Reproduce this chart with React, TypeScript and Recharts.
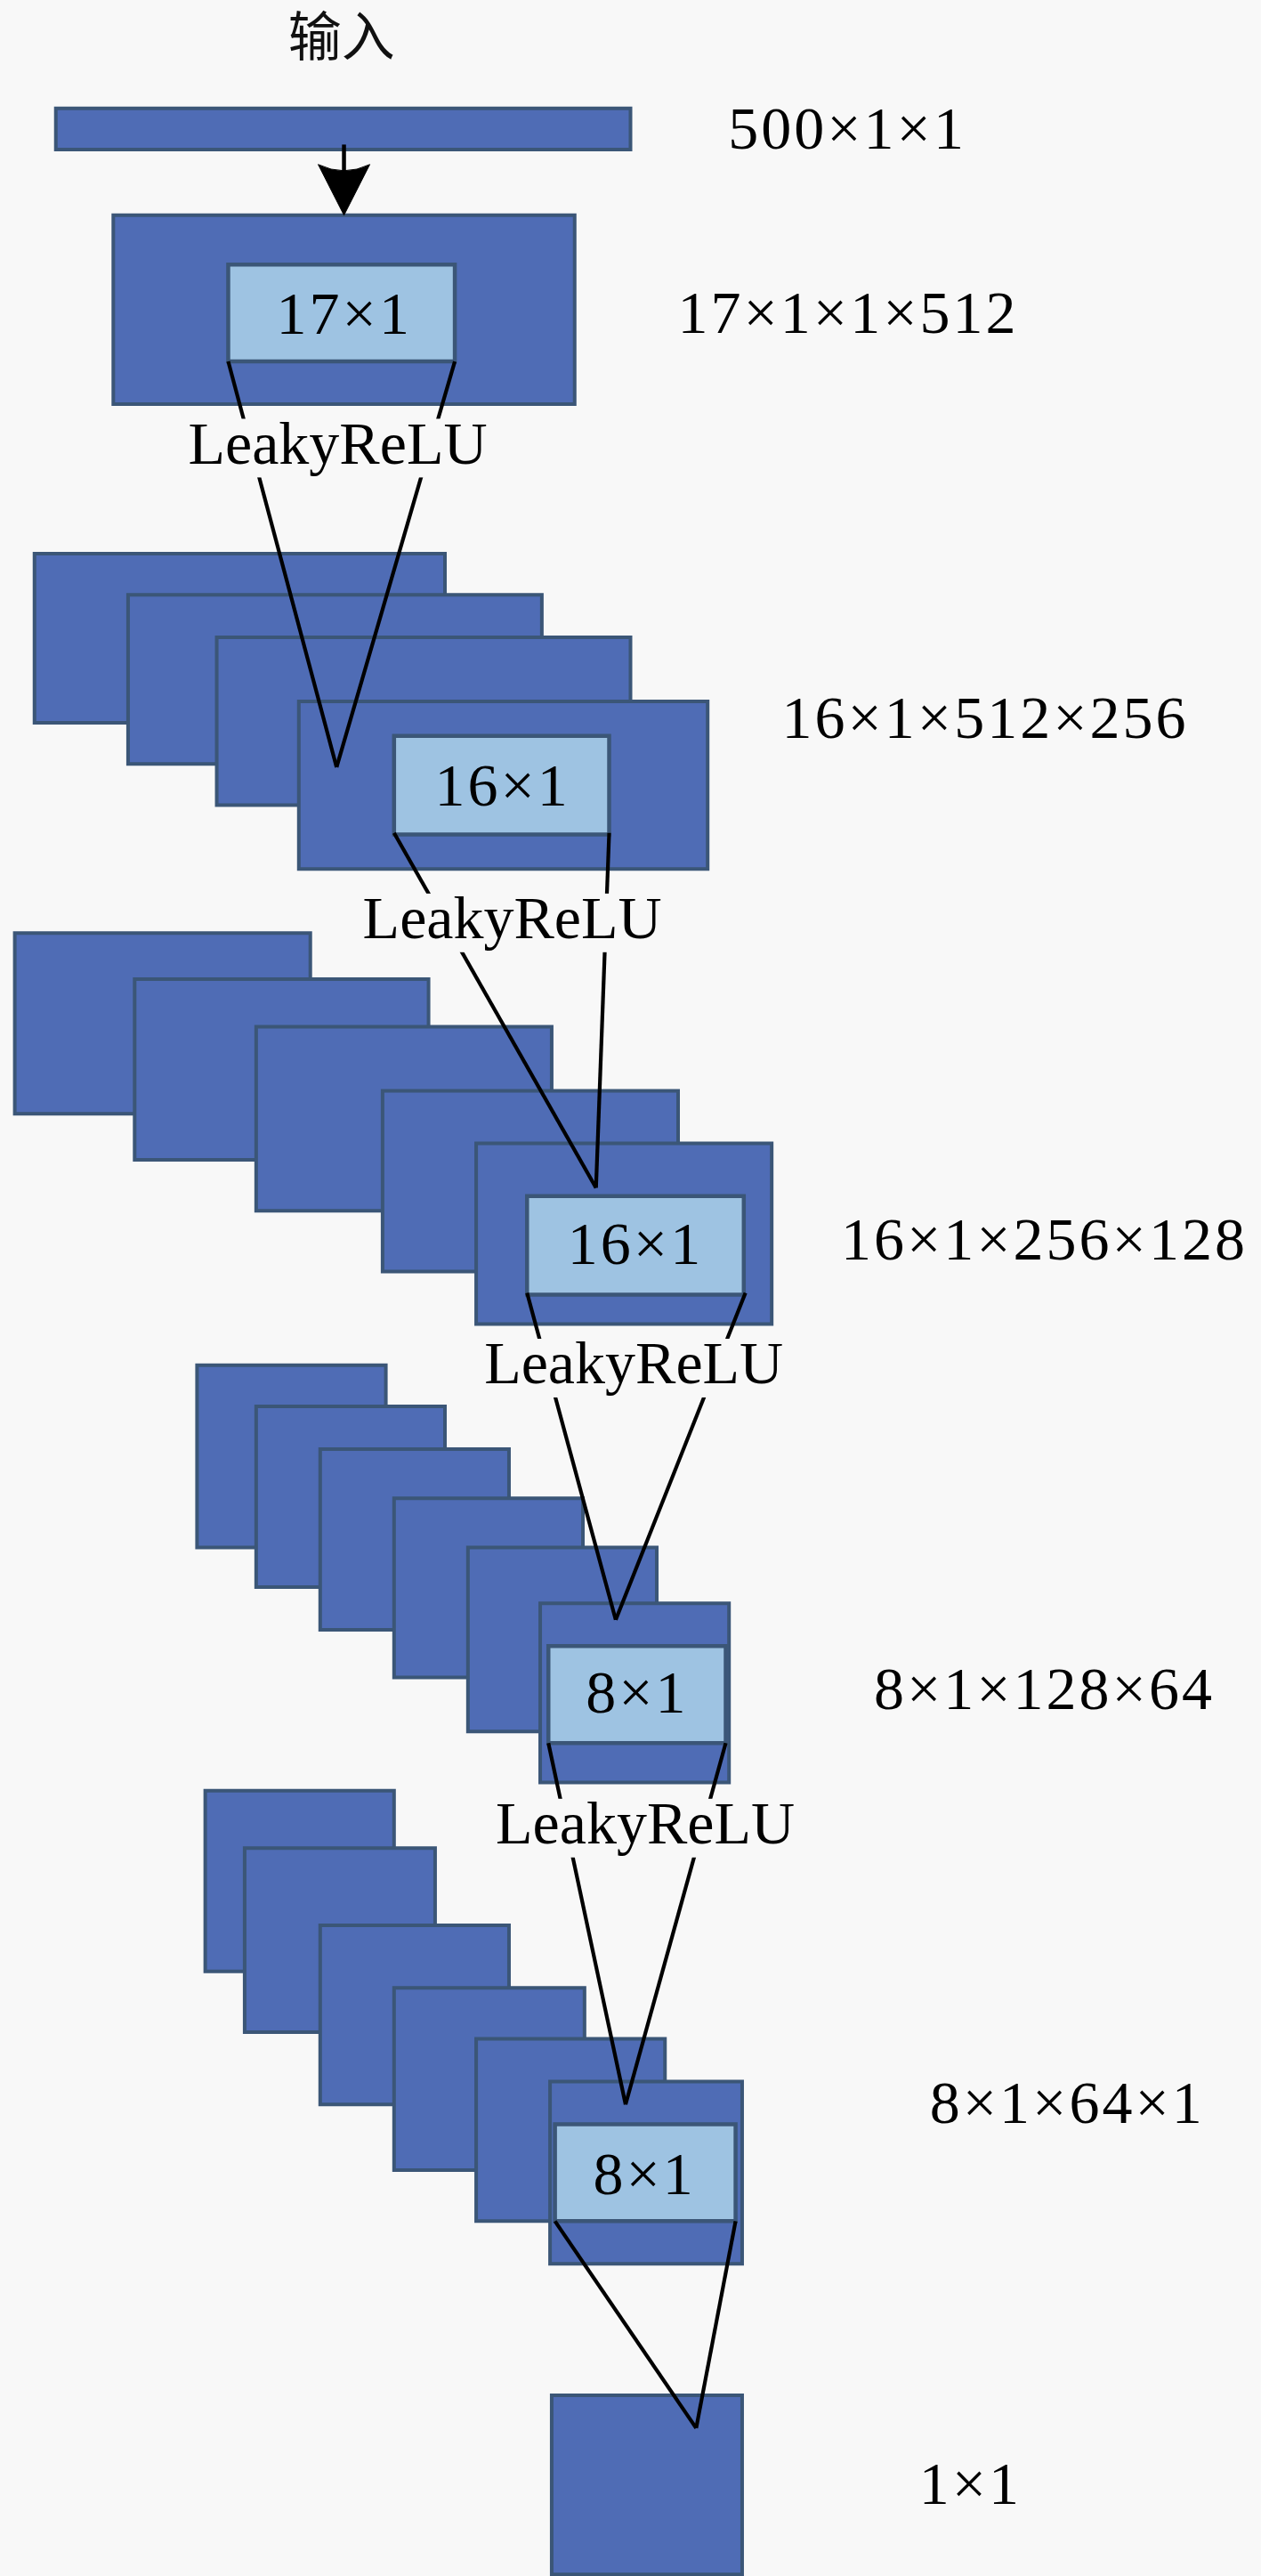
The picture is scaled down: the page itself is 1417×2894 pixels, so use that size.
import React from 'react';
import { ComposedChart, XAxis, YAxis, ReferenceArea, ReferenceLine, Scatter } from 'recharts';

const W = 1417;
const H = 2894;
const X_MAX = 768;
const Y_MAX = 1568;

// Feature-map rectangles: [x1, x2, y1, y2] in diagram units
const inputBar = [[34, 384, 66, 91]];
const block1 = [[69, 350, 131, 246]];
const block2 = [
  [21, 271, 337, 440],
  [78, 330, 362, 465],
  [132, 384, 388, 490],
  [182, 431, 427, 529],
];
const block3 = [
  [9, 189, 568, 678],
  [82, 261, 596, 706],
  [156, 336, 625, 737],
  [233, 413, 664, 774],
  [290, 470, 696, 806],
];
const block4 = [
  [120, 235, 831, 942],
  [156, 271, 856, 966],
  [195, 310, 882, 992],
  [240, 355, 912, 1021],
  [285, 400, 942, 1054],
  [329, 444, 976, 1085],
];
const block5 = [
  [125, 240, 1090, 1200],
  [149, 265, 1125, 1237],
  [195, 310, 1172, 1281],
  [240, 356, 1210, 1321],
  [290, 405, 1241, 1352],
  [335, 452, 1267, 1378],
];
const outputBox = [[336, 452, 1458, 1567]];
const kernelBoxes = [
  [139, 277, 161, 220],
  [240, 371, 448, 508],
  [321, 453, 728, 788],
  [334, 442, 1002, 1061],
  [338, 448, 1293, 1352],
];

// Connector lines [x1, y1, x2, y2]
const connectors = [
  [139, 220, 205, 467],
  [277, 220, 205, 467],
  [240, 507, 363, 723],
  [371, 507, 363, 723],
  [321, 787, 375, 986],
  [454, 787, 375, 986],
  [334, 1061, 381, 1281],
  [442, 1061, 381, 1281],
  [338, 1352, 424, 1478],
  [448, 1352, 424, 1478],
];
const arrowShaft = [[209.5, 88, 209.5, 112]];
const arrowTip = [{ x: 209.5, y: 131 }];

// Text
const titleText = ['输入'];
const titleX = [208];
const titleY = [18];

const dimLabels = ['500×1×1', '17×1×1×512', '16×1×512×256', '16×1×256×128', '8×1×128×64', '8×1×64×1', '1×1'];
const dimLabelX = [516, 516.5, 600, 636, 636, 650, 591];
const dimLabelY = [78, 190.5, 437, 754.5, 1028, 1280, 1512];

const kernelLabels = ['17×1', '16×1', '16×1', '8×1', '8×1'];
const kernelLabelX = [209.6, 306, 387, 388, 392.5];
const kernelLabelY = [190.6, 478, 757, 1030, 1323];

const actLabels = ['LeakyReLU', 'LeakyReLU', 'LeakyReLU', 'LeakyReLU'];
const actLabelX = [205.7, 312, 386, 393];
const actLabelY = [270, 559, 830, 1110];

const BG = '#f8f8f8';
const OUTER_FILL = '#4f6cb5';
const INNER_FILL = '#9ec3e2';
const EDGE = '#3b5677';
const SERIF = '"Liberation Serif", "DejaVu Serif", serif';
const FS = 68;

const outerRects = [...inputBar, ...block1, ...block2, ...block3, ...block4, ...block5, ...outputBox];

const dimData = dimLabels.map((t, i) => ({ x: dimLabelX[i], y: dimLabelY[i], t }));
const kernelData = kernelLabels.map((t, i) => ({ x: kernelLabelX[i], y: kernelLabelY[i], t }));
const actData = actLabels.map((t, i) => ({ x: actLabelX[i], y: actLabelY[i], t }));
const titleData = titleText.map((t, i) => ({ x: titleX[i], y: titleY[i], t }));

const NumText = (props: any) => {
  const { cx, cy, payload } = props;
  return (
    <text
      x={cx}
      y={cy + FS * 0.335}
      textAnchor="middle"
      fontFamily={SERIF}
      style={{ fontFamily: SERIF }}
      fontSize={FS}
      letterSpacing={3}
      fill="#000"
    >
      {payload.t}
    </text>
  );
};

const ActText = (props: any) => {
  const { cx, cy, payload } = props;
  const base = cy + FS * 0.33;
  const w = FS * 5.0;
  return (
    <g>
      <rect x={cx - w / 2} y={base - FS * 0.74} width={w} height={FS * 0.97} fill={BG} />
      <text
        x={cx}
        y={base}
        textAnchor="middle"
        fontFamily={SERIF}
        style={{ fontFamily: SERIF }}
        fontSize={FS}
        fill="#000"
      >
        {payload.t}
      </text>
    </g>
  );
};

const TitleText = (props: any) => {
  const { cx, cy, payload } = props;
  return (
    <text
      x={cx}
      y={cy + 30}
      textAnchor="middle"
      fontFamily="'Noto Sans CJK SC', sans-serif"
      fontSize={60}
      fill="#111"
    >
      {payload.t}
    </text>
  );
};

const ArrowHead = (props: any) => {
  const { cx, cy } = props;
  const hw = 29;
  const len = 57;
  const d = `M ${cx} ${cy} L ${cx - hw} ${cy - len} Q ${cx} ${cy - len + 14} ${cx + hw} ${cy - len} Z`;
  return <path d={d} fill="#000" stroke="#000" strokeWidth={1} />;
};

export default function App() {
  return (
    <div style={{ position: 'absolute', left: 0, top: 0, width: W, height: H, background: BG }}>
      <ComposedChart width={W} height={H} margin={{ top: 0, right: 0, bottom: 0, left: 0 }}>
        <XAxis type="number" dataKey="x" domain={[0, X_MAX]} hide allowDataOverflow />
        <YAxis type="number" dataKey="y" domain={[0, Y_MAX]} reversed hide allowDataOverflow />
        {outerRects.map((r, i) => (
          <ReferenceArea
            key={`o${i}`}
            x1={r[0]}
            x2={r[1]}
            y1={r[2]}
            y2={r[3]}
            fill={OUTER_FILL}
            fillOpacity={1}
            stroke={EDGE}
            strokeWidth={4}
            ifOverflow="visible"
          />
        ))}
        {kernelBoxes.map((r, i) => (
          <ReferenceArea
            key={`k${i}`}
            x1={r[0]}
            x2={r[1]}
            y1={r[2]}
            y2={r[3]}
            fill={INNER_FILL}
            fillOpacity={1}
            stroke={EDGE}
            strokeWidth={4.5}
            ifOverflow="visible"
          />
        ))}
        {[...connectors, ...arrowShaft].map((s, i) => (
          <ReferenceLine
            key={`l${i}`}
            segment={[
              { x: s[0], y: s[1] },
              { x: s[2], y: s[3] },
            ]}
            stroke="#000"
            strokeWidth={i >= connectors.length ? 4.5 : 4.2}
            ifOverflow="visible"
          />
        ))}
        <Scatter data={arrowTip} shape={ArrowHead} isAnimationActive={false} />
        <Scatter data={actData} shape={ActText} isAnimationActive={false} />
        <Scatter data={dimData} shape={NumText} isAnimationActive={false} />
        <Scatter data={kernelData} shape={NumText} isAnimationActive={false} />
        <Scatter data={titleData} shape={TitleText} isAnimationActive={false} />
      </ComposedChart>
    </div>
  );
}
